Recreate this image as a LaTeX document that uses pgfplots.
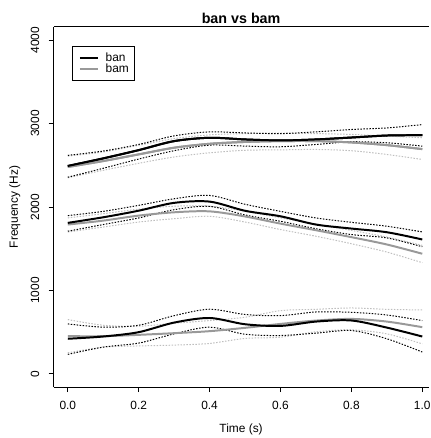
\documentclass[border=0pt]{standalone}
\usepackage{fontspec}
\setmainfont{Liberation Sans}
\usepackage{pgfplots}
\pgfplotsset{compat=1.18}
\definecolor{bamgrey}{HTML}{999999}
\definecolor{bamci}{HTML}{BEBEBE}
\begin{document}
\begin{tikzpicture}
\path (-54pt,-48pt) rectangle (378pt,390pt);
\begin{axis}[
  at={(0pt,0pt)}, anchor=south west,
  scale only axis,
  width=377.6pt, height=363pt,
  xmin=-0.04, xmax=1.0177, ymin=-160, ymax=4160,
  axis x line=box, axis y line=left,
  axis line style={line width=0.8pt, -},
  x axis line style={-}, y axis line style={-},
  tick style={line width=0.8pt, black},
  tick align=outside, major tick length=5pt,
  xtick pos=left, ytick pos=left,
  xtick={0,0.2,0.4,0.6,0.8,1.0},
  xticklabels={0.0,0.2,0.4,0.6,0.8,1.0},
  ytick={0,1000,2000,3000,4000},
  yticklabels={0,1000,2000,3000,4000},
  ticklabel style={font=\fontsize{12}{14}\selectfont},
  xticklabel style={anchor=north, inner sep=0pt, yshift=-8.7pt},
  yticklabel style={xshift=-9.2pt, rotate=90, anchor=south, inner sep=0pt},
  every axis x label/.style={at={(axis description cs:0.5,-0.1248)}, anchor=base, font=\fontsize{12}{14}\selectfont},
  every axis title/.style={at={(axis description cs:0.5,1.008)}, anchor=base, font=\fontsize{14.4}{16}\bfseries},
  xlabel={Time (s)},
  title={ban vs bam},
  legend style={at={(axis description cs:0.0503,0.9477)}, anchor=north west,
    draw=black, line width=0.8pt, inner xsep=6pt, inner ysep=6.5pt, column sep=7pt,
    font=\fontsize{12}{11}\selectfont,
    nodes={inner sep=0pt, text height=9pt, text depth=2pt}},
  legend cell align=left,
  legend image code/.code={\draw[#1] (0pt,0pt) -- (18pt,0pt);},
]
% ban F3 mean (legend)
\addplot[black, line width=2pt, smooth] coordinates {(0,2492)(0.1,2583)(0.2,2682)(0.3,2790)(0.4,2830)(0.5,2810)(0.6,2798)(0.7,2810)(0.8,2833)(0.9,2857)(1.0,2861)};
\addlegendentry{ban}
% bam F3 mean (legend)
\addplot[bamgrey, line width=2pt, smooth] coordinates {(0,2480)(0.1,2551)(0.2,2631)(0.3,2711)(0.4,2758)(0.5,2780)(0.6,2790)(0.7,2790)(0.8,2774)(0.9,2742)(1.0,2694)};
\addlegendentry{bam}

\pgfplotsset{bci/.style={bamci, line width=1pt, dash pattern=on 1.5pt off 1.5pt, smooth, forget plot}}
\pgfplotsset{nci/.style={black, line width=1pt, dash pattern=on 1.5pt off 1.5pt, smooth, forget plot}}
% F3 bam CI
\addplot[bci] coordinates {(0,2610)(0.1,2660)(0.2,2740)(0.3,2820)(0.4,2865)(0.5,2880)(0.6,2885)(0.7,2880)(0.8,2870)(0.9,2850)(1.0,2830)};
\addplot[bci] coordinates {(0,2350)(0.1,2440)(0.2,2524)(0.3,2600)(0.4,2650)(0.5,2680)(0.6,2685)(0.7,2690)(0.8,2675)(0.9,2630)(1.0,2570)};
% F2 bam CI
\addplot[bci] coordinates {(0,1870)(0.1,1920)(0.2,1975)(0.3,2010)(0.4,2010)(0.5,1950)(0.6,1870)(0.7,1795)(0.8,1720)(0.9,1640)(1.0,1540)};
\addplot[bci] coordinates {(0,1700)(0.1,1760)(0.2,1820)(0.3,1860)(0.4,1889)(0.5,1820)(0.6,1730)(0.7,1650)(0.8,1560)(0.9,1460)(1.0,1333)};
% F1 bam CI
\addplot[bci] coordinates {(0,651)(0.1,583)(0.2,571)(0.3,607)(0.4,639)(0.5,679)(0.6,758)(0.7,774)(0.8,790)(0.9,774)(1.0,766)};
\addplot[bci] coordinates {(0,253)(0.1,320)(0.2,335)(0.3,345)(0.4,365)(0.5,425)(0.6,440)(0.7,505)(0.8,528)(0.9,480)(1.0,360)};

% F3 ban CI
\addplot[nci] coordinates {(0,2619)(0.1,2671)(0.2,2750)(0.3,2853)(0.4,2901)(0.5,2888)(0.6,2880)(0.7,2901)(0.8,2929)(0.9,2948)(1.0,2988)};
\addplot[nci] coordinates {(0,2357)(0.1,2464)(0.2,2575)(0.3,2675)(0.4,2742)(0.5,2730)(0.6,2722)(0.7,2750)(0.8,2782)(0.9,2770)(1.0,2730)};
% F2 ban CI
\addplot[nci] coordinates {(0,1897)(0.1,1948)(0.2,2020)(0.3,2099)(0.4,2139)(0.5,2033)(0.6,1948)(0.7,1869)(0.8,1817)(0.9,1770)(1.0,1702)};
\addplot[nci] coordinates {(0,1710)(0.1,1790)(0.2,1869)(0.3,1968)(0.4,2008)(0.5,1905)(0.6,1829)(0.7,1740)(0.8,1670)(0.9,1630)(1.0,1524)};
% F1 ban CI
\addplot[nci] coordinates {(0,599)(0.1,560)(0.2,583)(0.3,698)(0.4,775)(0.5,712)(0.6,698)(0.7,742)(0.8,738)(0.9,706)(1.0,639)};
\addplot[nci] coordinates {(0,234)(0.1,321)(0.2,369)(0.3,480)(0.4,560)(0.5,475)(0.6,460)(0.7,488)(0.8,520)(0.9,421)(1.0,262)};

% means F2
\addplot[bamgrey, line width=2pt, smooth, forget plot] coordinates {(0,1790)(0.1,1837)(0.2,1897)(0.3,1937)(0.4,1948)(0.5,1887)(0.6,1801)(0.7,1722)(0.8,1639)(0.9,1551)(1.0,1440)};
\addplot[black, line width=2pt, smooth, forget plot] coordinates {(0,1810)(0.1,1877)(0.2,1956)(0.3,2050)(0.4,2065)(0.5,1955)(0.6,1889)(0.7,1790)(0.8,1742)(0.9,1698)(1.0,1611)};
% means F1
\addplot[bamgrey, line width=2pt, smooth, forget plot] coordinates {(0,452)(0.1,452)(0.2,468)(0.3,488)(0.4,512)(0.5,552)(0.6,599)(0.7,639)(0.8,659)(0.9,627)(1.0,560)};
\addplot[black, line width=2pt, smooth, forget plot] coordinates {(0,421)(0.1,448)(0.2,500)(0.3,615)(0.4,670)(0.5,595)(0.6,575)(0.7,627)(0.8,640)(0.9,555)(1.0,448)};
% means F3 on top
\addplot[bamgrey, line width=2pt, smooth, forget plot] coordinates {(0,2480)(0.1,2551)(0.2,2631)(0.3,2711)(0.4,2758)(0.5,2780)(0.6,2790)(0.7,2790)(0.8,2774)(0.9,2742)(1.0,2694)};
\addplot[black, line width=2pt, smooth, forget plot] coordinates {(0,2492)(0.1,2583)(0.2,2682)(0.3,2790)(0.4,2830)(0.5,2810)(0.6,2798)(0.7,2810)(0.8,2833)(0.9,2857)(1.0,2861)};
\end{axis}
\node[rotate=90, anchor=center, font=\fontsize{12}{14}\selectfont] at (-39pt,181.5pt) {Frequency (Hz)};
\end{tikzpicture}
\end{document}
